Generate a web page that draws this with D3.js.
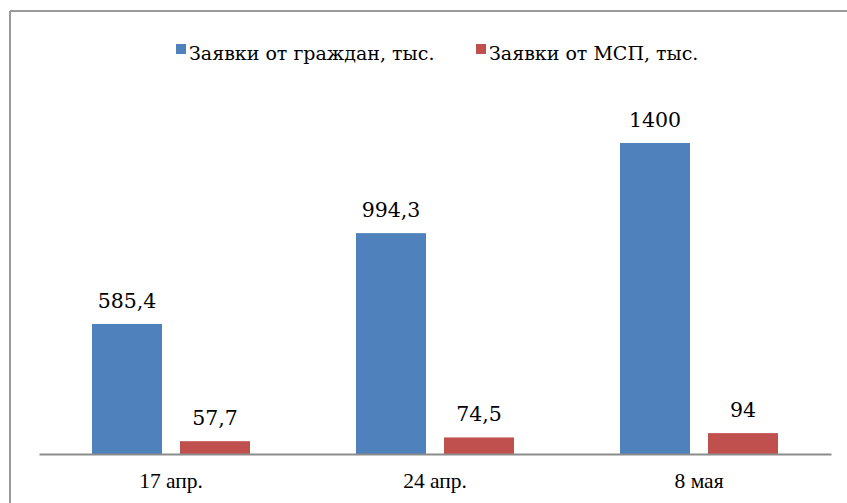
<!DOCTYPE html>
<html><head><meta charset="utf-8">
<script src="https://cdn.jsdelivr.net/npm/d3@7"></script>
<style>body{margin:0;background:#fff}svg{display:block}</style>
</head><body>
<script>
const categories = ["17 апр.", "24 апр.", "8 мая"];
const seriesNames = ["Заявки от граждан, тыс.", "Заявки от МСП, тыс."];
const citizens = [585.4, 994.3, 1400];
const sme = [57.7, 74.5, 94];
const valueLabels = [["585,4", "994,3", "1400"], ["57,7", "74,5", "94"]];
const colors = ["#4F81BD", "#C0504D"];

const W = 847, H = 503;
const FONT = "'Liberation Serif', 'Times New Roman', serif";
const FONT2 = "'DejaVu Serif', serif";
const svg = d3.select("body").append("svg").attr("width", W).attr("height", H);

// frame (clipped on right/bottom)
svg.append("line").attr("x1", 10).attr("x2", 10).attr("y1", 11).attr("y2", H).attr("stroke", "#9a9a9a").attr("stroke-width", 2);
svg.append("line").attr("x1", 10).attr("x2", W).attr("y1", 11).attr("y2", 11).attr("stroke", "#9a9a9a").attr("stroke-width", 2);

const x0 = d3.scaleBand().domain(categories).range([39, 831]).paddingInner(0).paddingOuter(0);
const x1 = d3.scaleBand().domain([0, 1]).range([x0.bandwidth()/2 - 79, x0.bandwidth()/2 + 79]).paddingInner(18/88).paddingOuter(0);
const y = d3.scaleLinear().domain([0, 1600]).range([454, 98.6]);

const series = [citizens, sme];
series.forEach((vals, s) => {
  const g = svg.append("g");
  g.selectAll("rect").data(vals).join("rect")
    .attr("x", (d, i) => x0(categories[i]) + x1(s))
    .attr("width", x1.bandwidth())
    .attr("y", d => y(d))
    .attr("height", d => y(0) - y(d))
    .attr("fill", colors[s]);
  g.selectAll("text").data(vals).join("text")
    .attr("x", (d, i) => x0(categories[i]) + x1(s) + x1.bandwidth()/2)
    .attr("y", d => y(d) - 16)
    .attr("text-anchor", "middle")
    .attr("font-family", FONT2)
    .attr("font-size", 20.5).attr("fill", "#000")
    .text((d, i) => valueLabels[s][i]);
});

// axis
const axis = d3.axisBottom(x0).tickSize(0).tickPadding(0);
const ag = svg.append("g").attr("transform", `translate(0,${y(0)})`).call(axis);
ag.attr("font-family", FONT);
ag.select(".domain").attr("stroke", "#8c8c8c").attr("stroke-width", 2);
ag.selectAll("text").attr("font-size", 21.5).attr("fill", "#000")
  .attr("dy", null).attr("y", 34);

// legend
const legendX = [176, 476];
seriesNames.forEach((n, i) => {
  svg.append("rect").attr("x", legendX[i]).attr("y", 44).attr("width", 10).attr("height", 10).attr("fill", colors[i]);
  svg.append("text").attr("x", legendX[i] + 13).attr("y", 60)
    .attr("font-family", FONT2)
    .attr("font-size", 19).attr("fill", "#000").text(n);
});
</script>
</body></html>
